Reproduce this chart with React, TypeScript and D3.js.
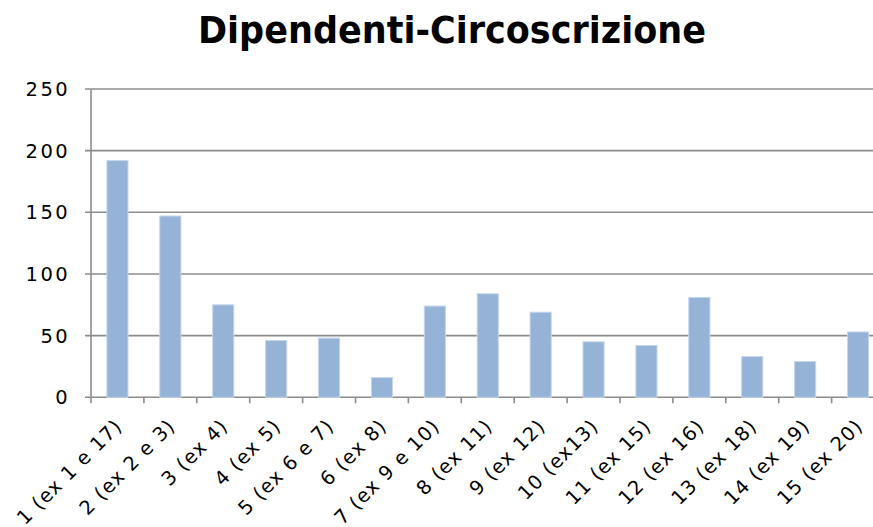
import React from "react";
import * as d3 from "d3";

const categories = [
  "1 (ex 1 e 17)", "2 (ex 2 e 3)", "3 (ex 4)", "4 (ex 5)", "5 (ex 6 e 7)",
  "6 (ex 8)", "7 (ex 9 e 10)", "8 (ex 11)", "9 (ex 12)", "10 (ex13)",
  "11 (ex 15)", "12 (ex 16)", "13 (ex 18)", "14 (ex 19)", "15 (ex 20)",
];
const values = [192, 147, 75, 46, 48, 16, 74, 84, 69, 45, 42, 81, 33, 29, 53];
const yTicks = [0, 50, 100, 150, 200, 250];
const title = "Dipendenti-Circoscrizione";

const W = 873, H = 527;
const left = 91, right = 884.5, top = 89, bottom = 397.3;
const FONT = "'DejaVu Sans', sans-serif";

export default function App() {
  const x = d3.scaleBand<string>().domain(categories).range([left, right]).paddingInner(0).paddingOuter(0);
  const y = d3.scaleLinear().domain([0, 250]).range([bottom, top]);
  const bw = x.bandwidth();
  const barW = bw * 0.4;
  const grid = "#8c8c8c";
  return (
    <svg width={W} height={H} style={{ position: "absolute", left: 0, top: 0, background: "#fff" }}>
      <text x={198} y={43} textLength={508} lengthAdjust="spacingAndGlyphs" fontFamily={FONT} fontWeight={700} fontSize={38} fill="#000">{title}</text>
      {yTicks.map((t) => (
        <g key={t}>
          <line x1={left - 6} x2={W} y1={y(t)} y2={y(t)} stroke={grid} strokeWidth={1.6} />
          <text x={70} y={y(t)} dy="0.36em" textAnchor="end" fontFamily={FONT} fontSize={19.5} letterSpacing={2.4} fill="#000">{t}</text>
        </g>
      ))}
      <line x1={left} x2={left} y1={top} y2={bottom} stroke={grid} strokeWidth={1.6} />
      {categories.map((c, i) => (
        <line key={"t" + i} x1={x(c)!} x2={x(c)!} y1={bottom} y2={bottom + 6} stroke={grid} strokeWidth={1.6} />
      ))}
      {categories.map((c, i) => {
        const cx = x(c)! + bw / 2;
        return (
          <rect key={"b" + i} x={cx - barW / 2} y={y(values[i])} width={barW} height={bottom - y(values[i])}
            fill="#95b3d7" stroke="#c6d7ec" strokeWidth={1} />
        );
      })}
      {categories.map((c, i) => {
        const cx = x(c)! + bw / 2 + 6;
        const ty = bottom + 30;
        return (
          <text key={"l" + i} x={cx} y={ty} transform={`rotate(-45 ${cx} ${ty})`} textAnchor="end"
            fontFamily={FONT} fontSize={19.5} letterSpacing={1.1} fill="#000">{c}</text>
        );
      })}
    </svg>
  );
}
